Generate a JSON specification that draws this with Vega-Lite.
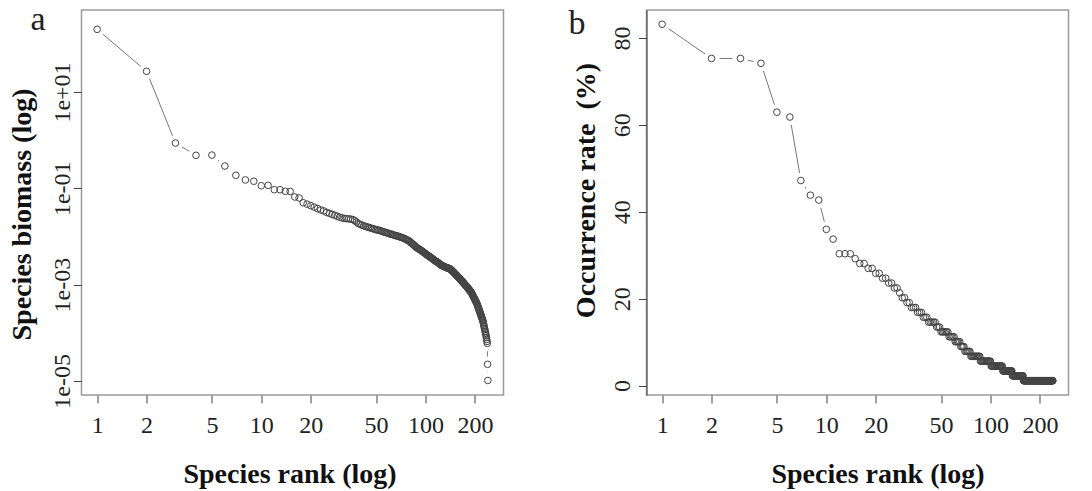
{
 "$schema": "https://vega.github.io/schema/vega-lite/v6.json",
 "padding": {"left": 6.5, "top": 2, "right": 5, "bottom": 0},
 "background": "white",
 "datasets": {"d": [
{"rank":1,"biomass":200,"occ":83.15},{"rank":2,"biomass":26.9,"occ":75.28},{"rank":3,"biomass":0.871,"occ":75.28},{"rank":4,"biomass":0.484,"occ":74.16},{"rank":5,"biomass":0.49,"occ":62.92},{"rank":6,"biomass":0.29,"occ":61.8},{"rank":7,"biomass":0.186,"occ":47.19},{"rank":8,"biomass":0.149,"occ":43.82},{"rank":9,"biomass":0.14,"occ":42.7},{"rank":10,"biomass":0.113,"occ":35.96},
{"rank":11,"biomass":0.115,"occ":33.71},{"rank":12,"biomass":0.0935,"occ":30.34},{"rank":13,"biomass":0.0933,"occ":30.34},{"rank":14,"biomass":0.0867,"occ":30.34},{"rank":15,"biomass":0.0861,"occ":29.21},{"rank":16,"biomass":0.0659,"occ":28.09},{"rank":17,"biomass":0.0631,"occ":28.09},{"rank":18,"biomass":0.0501,"occ":26.97},{"rank":19,"biomass":0.0468,"occ":26.97},{"rank":20,"biomass":0.0437,"occ":25.84},
{"rank":21,"biomass":0.0407,"occ":25.84},{"rank":22,"biomass":0.038,"occ":24.72},{"rank":23,"biomass":0.0355,"occ":24.72},{"rank":24,"biomass":0.0339,"occ":23.6},{"rank":25,"biomass":0.0316,"occ":23.6},{"rank":26,"biomass":0.0302,"occ":22.47},{"rank":27,"biomass":0.0288,"occ":22.47},{"rank":28,"biomass":0.0275,"occ":21.35},{"rank":29,"biomass":0.0263,"occ":20.22},{"rank":30,"biomass":0.0251,"occ":20.22},
{"rank":31,"biomass":0.0243,"occ":19.1},{"rank":32,"biomass":0.0237,"occ":19.1},{"rank":33,"biomass":0.0234,"occ":17.98},{"rank":34,"biomass":0.0232,"occ":17.98},{"rank":35,"biomass":0.0229,"occ":17.98},{"rank":36,"biomass":0.0224,"occ":16.85},{"rank":37,"biomass":0.0214,"occ":16.85},{"rank":38,"biomass":0.02,"occ":16.85},{"rank":39,"biomass":0.0186,"occ":15.73},{"rank":40,"biomass":0.0178,"occ":15.73},
{"rank":41,"biomass":0.0172,"occ":15.73},{"rank":42,"biomass":0.0166,"occ":14.61},{"rank":43,"biomass":0.0162,"occ":14.61},{"rank":44,"biomass":0.0158,"occ":14.61},{"rank":45,"biomass":0.0155,"occ":14.61},{"rank":46,"biomass":0.0151,"occ":14.61},{"rank":47,"biomass":0.0148,"occ":13.48},{"rank":48,"biomass":0.0145,"occ":13.48},{"rank":49,"biomass":0.0141,"occ":13.48},{"rank":50,"biomass":0.0138,"occ":12.36},
{"rank":51,"biomass":0.0136,"occ":12.36},{"rank":52,"biomass":0.0135,"occ":12.36},{"rank":53,"biomass":0.0132,"occ":12.36},{"rank":54,"biomass":0.0129,"occ":12.36},{"rank":55,"biomass":0.0126,"occ":12.36},{"rank":56,"biomass":0.0123,"occ":11.24},{"rank":57,"biomass":0.0122,"occ":11.24},{"rank":58,"biomass":0.0119,"occ":11.24},{"rank":59,"biomass":0.0117,"occ":11.24},{"rank":60,"biomass":0.0115,"occ":11.24},
{"rank":61,"biomass":0.0112,"occ":10.11},{"rank":62,"biomass":0.0111,"occ":10.11},{"rank":63,"biomass":0.011,"occ":10.11},{"rank":64,"biomass":0.0107,"occ":10.11},{"rank":65,"biomass":0.0105,"occ":10.11},{"rank":66,"biomass":0.0104,"occ":8.99},{"rank":67,"biomass":0.0102,"occ":8.99},{"rank":68,"biomass":0.0101,"occ":8.99},{"rank":69,"biomass":0.01,"occ":8.99},{"rank":70,"biomass":0.00977,"occ":7.87},
{"rank":71,"biomass":0.00955,"occ":7.87},{"rank":72,"biomass":0.00944,"occ":7.87},{"rank":73,"biomass":0.00933,"occ":7.87},{"rank":74,"biomass":0.00912,"occ":7.87},{"rank":75,"biomass":0.00891,"occ":7.87},{"rank":76,"biomass":0.00871,"occ":6.74},{"rank":77,"biomass":0.00851,"occ":6.74},{"rank":78,"biomass":0.00832,"occ":6.74},{"rank":79,"biomass":0.00813,"occ":6.74},{"rank":80,"biomass":0.00794,"occ":6.74},
{"rank":81,"biomass":0.00759,"occ":6.74},{"rank":82,"biomass":0.00733,"occ":6.74},{"rank":83,"biomass":0.00708,"occ":6.74},{"rank":84,"biomass":0.00684,"occ":6.74},{"rank":85,"biomass":0.00661,"occ":6.74},{"rank":86,"biomass":0.00638,"occ":6.74},{"rank":87,"biomass":0.00617,"occ":5.62},{"rank":88,"biomass":0.00596,"occ":5.62},{"rank":89,"biomass":0.00575,"occ":5.62},{"rank":90,"biomass":0.00562,"occ":5.62},
{"rank":91,"biomass":0.0055,"occ":5.62},{"rank":92,"biomass":0.00537,"occ":5.62},{"rank":93,"biomass":0.00525,"occ":5.62},{"rank":94,"biomass":0.00513,"occ":5.62},{"rank":95,"biomass":0.00501,"occ":5.62},{"rank":96,"biomass":0.0049,"occ":5.62},{"rank":97,"biomass":0.00473,"occ":5.62},{"rank":98,"biomass":0.00462,"occ":5.62},{"rank":99,"biomass":0.00452,"occ":5.62},{"rank":100,"biomass":0.00437,"occ":5.62},
{"rank":101,"biomass":0.00427,"occ":4.49},{"rank":102,"biomass":0.00417,"occ":4.49},{"rank":103,"biomass":0.00407,"occ":4.49},{"rank":104,"biomass":0.00398,"occ":4.49},{"rank":105,"biomass":0.00389,"occ":4.49},{"rank":106,"biomass":0.0038,"occ":4.49},{"rank":107,"biomass":0.00372,"occ":4.49},{"rank":108,"biomass":0.00363,"occ":4.49},{"rank":109,"biomass":0.00355,"occ":4.49},{"rank":110,"biomass":0.00347,"occ":4.49},
{"rank":111,"biomass":0.00339,"occ":4.49},{"rank":112,"biomass":0.00331,"occ":4.49},{"rank":113,"biomass":0.00324,"occ":4.49},{"rank":114,"biomass":0.00316,"occ":4.49},{"rank":115,"biomass":0.00309,"occ":4.49},{"rank":116,"biomass":0.00302,"occ":4.49},{"rank":117,"biomass":0.00299,"occ":4.49},{"rank":118,"biomass":0.00295,"occ":4.49},{"rank":119,"biomass":0.00288,"occ":3.37},{"rank":120,"biomass":0.00282,"occ":3.37},
{"rank":121,"biomass":0.00275,"occ":3.37},{"rank":122,"biomass":0.00269,"occ":3.37},{"rank":123,"biomass":0.00263,"occ":3.37},{"rank":124,"biomass":0.00257,"occ":3.37},{"rank":125,"biomass":0.00251,"occ":3.37},{"rank":126,"biomass":0.00248,"occ":3.37},{"rank":127,"biomass":0.00245,"occ":3.37},{"rank":128,"biomass":0.00243,"occ":3.37},{"rank":129,"biomass":0.0024,"occ":3.37},{"rank":130,"biomass":0.00237,"occ":3.37},
{"rank":131,"biomass":0.00234,"occ":3.37},{"rank":132,"biomass":0.00232,"occ":3.37},{"rank":133,"biomass":0.00229,"occ":3.37},{"rank":134,"biomass":0.00226,"occ":3.37},{"rank":135,"biomass":0.00224,"occ":3.37},{"rank":136,"biomass":0.00221,"occ":2.25},{"rank":137,"biomass":0.00219,"occ":2.25},{"rank":138,"biomass":0.00219,"occ":2.25},{"rank":139,"biomass":0.00216,"occ":2.25},{"rank":140,"biomass":0.00214,"occ":2.25},
{"rank":141,"biomass":0.00211,"occ":2.25},{"rank":142,"biomass":0.00209,"occ":2.25},{"rank":143,"biomass":0.00204,"occ":2.25},{"rank":144,"biomass":0.002,"occ":2.25},{"rank":145,"biomass":0.00195,"occ":2.25},{"rank":146,"biomass":0.00191,"occ":2.25},{"rank":147,"biomass":0.00186,"occ":2.25},{"rank":148,"biomass":0.00182,"occ":2.25},{"rank":149,"biomass":0.00178,"occ":2.25},{"rank":150,"biomass":0.00174,"occ":2.25},
{"rank":151,"biomass":0.0017,"occ":2.25},{"rank":152,"biomass":0.00166,"occ":2.25},{"rank":153,"biomass":0.00162,"occ":2.25},{"rank":154,"biomass":0.00158,"occ":2.25},{"rank":155,"biomass":0.00155,"occ":2.25},{"rank":156,"biomass":0.00151,"occ":2.25},{"rank":157,"biomass":0.00148,"occ":2.25},{"rank":158,"biomass":0.00145,"occ":2.25},{"rank":159,"biomass":0.00141,"occ":1.12},{"rank":160,"biomass":0.00138,"occ":1.12},
{"rank":161,"biomass":0.00135,"occ":1.12},{"rank":162,"biomass":0.00132,"occ":1.12},{"rank":163,"biomass":0.00129,"occ":1.12},{"rank":164,"biomass":0.00126,"occ":1.12},{"rank":165,"biomass":0.00123,"occ":1.12},{"rank":166,"biomass":0.0012,"occ":1.12},{"rank":167,"biomass":0.00117,"occ":1.12},{"rank":168,"biomass":0.00115,"occ":1.12},{"rank":169,"biomass":0.00112,"occ":1.12},{"rank":170,"biomass":0.0011,"occ":1.12},
{"rank":171,"biomass":0.00107,"occ":1.12},{"rank":172,"biomass":0.00105,"occ":1.12},{"rank":173,"biomass":0.00102,"occ":1.12},{"rank":174,"biomass":0.001,"occ":1.12},{"rank":175,"biomass":0.000977,"occ":1.12},{"rank":176,"biomass":0.000955,"occ":1.12},{"rank":177,"biomass":0.000933,"occ":1.12},{"rank":178,"biomass":0.000912,"occ":1.12},{"rank":179,"biomass":0.000891,"occ":1.12},{"rank":180,"biomass":0.000871,"occ":1.12},
{"rank":181,"biomass":0.000851,"occ":1.12},{"rank":182,"biomass":0.000832,"occ":1.12},{"rank":183,"biomass":0.000813,"occ":1.12},{"rank":184,"biomass":0.000794,"occ":1.12},{"rank":185,"biomass":0.000776,"occ":1.12},{"rank":186,"biomass":0.000759,"occ":1.12},{"rank":187,"biomass":0.000741,"occ":1.12},{"rank":188,"biomass":0.000724,"occ":1.12},{"rank":189,"biomass":0.000708,"occ":1.12},{"rank":190,"biomass":0.000692,"occ":1.12},
{"rank":191,"biomass":0.000668,"occ":1.12},{"rank":192,"biomass":0.000646,"occ":1.12},{"rank":193,"biomass":0.000624,"occ":1.12},{"rank":194,"biomass":0.000603,"occ":1.12},{"rank":195,"biomass":0.000582,"occ":1.12},{"rank":196,"biomass":0.000562,"occ":1.12},{"rank":197,"biomass":0.000543,"occ":1.12},{"rank":198,"biomass":0.000525,"occ":1.12},{"rank":199,"biomass":0.000507,"occ":1.12},{"rank":200,"biomass":0.00049,"occ":1.12},
{"rank":201,"biomass":0.000473,"occ":1.12},{"rank":202,"biomass":0.000457,"occ":1.12},{"rank":203,"biomass":0.000442,"occ":1.12},{"rank":204,"biomass":0.000427,"occ":1.12},{"rank":205,"biomass":0.000412,"occ":1.12},{"rank":206,"biomass":0.000398,"occ":1.12},{"rank":207,"biomass":0.00038,"occ":1.12},{"rank":208,"biomass":0.000363,"occ":1.12},{"rank":209,"biomass":0.000347,"occ":1.12},{"rank":210,"biomass":0.000331,"occ":1.12},
{"rank":211,"biomass":0.000316,"occ":1.12},{"rank":212,"biomass":0.000302,"occ":1.12},{"rank":213,"biomass":0.000288,"occ":1.12},{"rank":214,"biomass":0.000275,"occ":1.12},{"rank":215,"biomass":0.000263,"occ":1.12},{"rank":216,"biomass":0.000251,"occ":1.12},{"rank":217,"biomass":0.00024,"occ":1.12},{"rank":218,"biomass":0.000229,"occ":1.12},{"rank":219,"biomass":0.000219,"occ":1.12},{"rank":220,"biomass":0.000209,"occ":1.12},
{"rank":221,"biomass":0.0002,"occ":1.12},{"rank":222,"biomass":0.000191,"occ":1.12},{"rank":223,"biomass":0.000182,"occ":1.12},{"rank":224,"biomass":0.000174,"occ":1.12},{"rank":225,"biomass":0.000162,"occ":1.12},{"rank":226,"biomass":0.000151,"occ":1.12},{"rank":227,"biomass":0.000141,"occ":1.12},{"rank":228,"biomass":0.000132,"occ":1.12},{"rank":229,"biomass":0.000123,"occ":1.12},{"rank":230,"biomass":0.000115,"occ":1.12},
{"rank":231,"biomass":0.000107,"occ":1.12},{"rank":232,"biomass":0.0001,"occ":1.12},{"rank":233,"biomass":0.0000933,"occ":1.12},{"rank":234,"biomass":0.0000871,"occ":1.12},{"rank":235,"biomass":0.0000794,"occ":1.12},{"rank":236,"biomass":0.0000724,"occ":1.12},{"rank":237,"biomass":0.0000661,"occ":1.12},{"rank":238,"biomass":0.0000603,"occ":1.12},{"rank":239,"biomass":0.0000221,"occ":1.12},{"rank":240,"biomass":0.0000102,"occ":1.12}
 ]},
 "config": {
  "view": {"stroke": "#9a9a9a", "strokeWidth": 1.5},
  "font": "Liberation Serif",
  "axis": {"grid": false, "domain": false, "tickSize": 8, "tickColor": "#444444", "tickWidth": 1, "labelFont": "Liberation Serif", "labelFontSize": 24, "labelColor": "#222222", "labelFlush": false, "labelOverlap": false, "titleFont": "Liberation Serif", "titleFontSize": 28, "titleFontWeight": "bold", "titleColor": "#111111"}
 },
 "spacing": 143,
 "bounds": "flush",
 "hconcat": [
    {"width": 422, "height": 385, "data": {"name": "d"},
     "title": {"text": "a", "anchor": "start", "frame": "group", "orient": "top", "offset": -33, "dx": -51, "dy": 21, "baseline": "alphabetic", "fontSize": 34, "fontWeight": "normal", "font": "Liberation Serif", "color": "#222222"},
     "encoding": {
      "x": {"field": "rank", "type": "quantitative", "scale": {"type": "log", "domain": [0.803, 298.8], "nice": false},
            "axis": {"values": [1,2,5,10,20,50,100,200], "format": "d", "labelPadding": 10, "labelBaseline": "top", "title": "Species rank (log)", "titleX": 208, "titleY": 87, "titleBaseline": "alphabetic", "titleAlign": "center"}},
      "y": {"field": "biomass", "type": "quantitative", "scale": {"type": "log", "domain": [0.00000509, 504.7], "nice": false},
            "axis": {"values": [10, 0.1, 0.001, 0.00001], "labelExpr": "datum.value > 1 ? '1e+01' : datum.value > 0.01 ? '1e-01' : datum.value > 0.0001 ? '1e-03' : '1e-05'", "labelAngle": -90, "labelAlign": "center", "labelBaseline": "alphabetic", "labelPadding": 4, "title": "Species biomass (log)", "titleX": -51.5, "titleY": 204, "titleAngle": -90, "titleBaseline": "alphabetic", "titleAlign": "center"}}
     },
     "layer": [
      {"mark": {"type": "line", "color": "#777777", "strokeWidth": 1}},
      {"mark": {"type": "point", "shape": "circle", "filled": true, "fill": "white", "strokeWidth": 0, "opacity": 1, "size": 250}},
      {"mark": {"type": "point", "shape": "circle", "filled": false, "stroke": "#444444", "strokeWidth": 1, "size": 44, "opacity": 1}}
     ]
    },
  {"width": 422, "height": 385, "data": {"name": "d"},
   "title": {"text": "b", "anchor": "start", "frame": "group", "orient": "top", "offset": -33, "dx": -78, "dy": 25, "baseline": "alphabetic", "fontSize": 34, "fontWeight": "normal", "font": "Liberation Serif", "color": "#222222"},
   "encoding": {
    "x": {"field": "rank", "type": "quantitative", "scale": {"type": "log", "domain": [0.803, 298.8], "nice": false},
          "axis": {"values": [1,2,5,10,20,50,100,200], "format": "d", "labelPadding": 10, "labelBaseline": "top", "title": "Species rank (log)", "titleX": 231, "titleY": 87, "titleBaseline": "alphabetic", "titleAlign": "center"}},
    "y": {"field": "occ", "type": "quantitative", "scale": {"domain": [-2.16, 86.43], "nice": false, "zero": false},
          "axis": {"values": [0, 20, 40, 60, 80], "domain": true, "domainColor": "#555555", "domainWidth": 1.2, "labelAngle": -90, "labelAlign": "center", "labelBaseline": "alphabetic", "labelPadding": 9, "title": "Occurrence rate \u00a0(%)", "titleX": -52.5, "titleY": 180, "titleAngle": -90, "titleBaseline": "alphabetic", "titleAlign": "center"}}
   },
   "layer": [
    {"mark": {"type": "line", "color": "#777777", "strokeWidth": 1}},
    {"mark": {"type": "point", "shape": "circle", "filled": true, "fill": "white", "strokeWidth": 0, "opacity": 1, "size": 250}},
    {"mark": {"type": "point", "shape": "circle", "filled": false, "stroke": "#444444", "strokeWidth": 1, "size": 44, "opacity": 1}}
   ]
  }
 ]
}
